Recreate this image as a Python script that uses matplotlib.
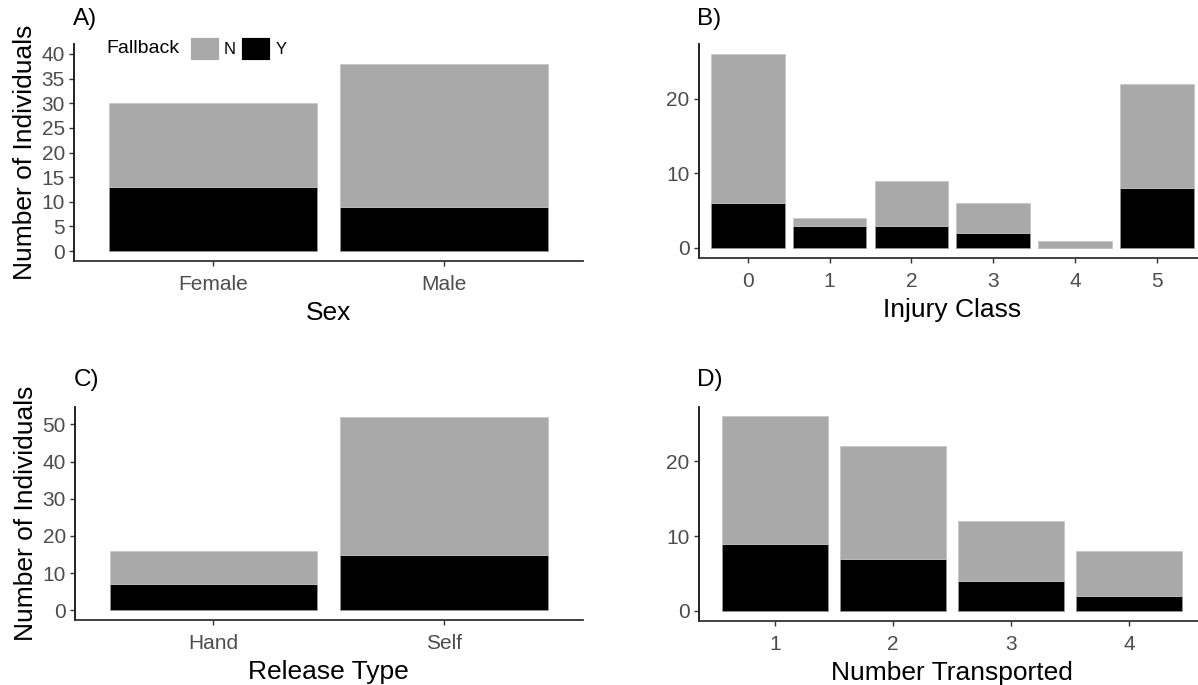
import matplotlib
matplotlib.use("Agg")
import matplotlib.pyplot as plt
from matplotlib.patches import Patch

plt.rcParams['font.family'] = ['Liberation Sans', 'DejaVu Sans']

# ---- data: counts of individuals by fallback outcome ----
sex_labels = ["Female", "Male"]
sex_y = [13, 9]
sex_n = [17, 29]

injury_labels = ["0", "1", "2", "3", "4", "5"]
injury_y = [6, 3, 3, 2, 0, 8]
injury_n = [20, 1, 6, 4, 1, 14]

release_labels = ["Hand", "Self"]
release_y = [7, 15]
release_n = [9, 37]

transported_labels = ["1", "2", "3", "4"]
transported_pos = [1, 2, 3, 4]
transported_y = [9, 7, 4, 2]
transported_n = [17, 15, 8, 6]

GREY = "#A9A9A9"
BLACK = "#000000"
TICK_COLOR = "#4D4D4D"
LINE_COLOR = "#333333"

W, H = 1198, 685
fig = plt.figure(figsize=(W / 100, H / 100), dpi=100)


def make_axes(left, right, top, bottom):
    return fig.add_axes([left / W, 1 - bottom / H, (right - left) / W, (bottom - top) / H])


def style(ax, xlabel, ylabel=None):
    for s in ("top", "right"):
        ax.spines[s].set_visible(False)
    for s in ("left", "bottom"):
        ax.spines[s].set_linewidth(1.3)
        ax.spines[s].set_color(LINE_COLOR)
    ax.spines["left"].set_color("#111111")
    ax.tick_params(axis="both", length=3.5, width=1.0, color=LINE_COLOR,
                   labelsize=15, labelcolor=TICK_COLOR)
    ax.tick_params(axis="y", pad=3.0)
    ax.tick_params(axis="x", pad=6.5)
    ax.set_xlabel(xlabel, fontsize=19, color="black", labelpad=5)
    if ylabel:
        ax.set_ylabel(ylabel, fontsize=19, color="black", labelpad=3)


def stacked(ax, pos, y, n):
    ax.bar(pos, y, width=0.9, color=BLACK, edgecolor="#9A9A9A", linewidth=0.5)
    ax.bar(pos, n, width=0.9, bottom=y, color=GREY, edgecolor="#C4C4C4", linewidth=0.5)


# A) Sex
axA = make_axes(74, 582.7, 44, 261)
posA = list(range(len(sex_labels)))
stacked(axA, posA, sex_y, sex_n)
axA.set_xlim(-0.6, len(sex_labels) - 0.4)
axA.set_ylim(-2, 42)
axA.set_yticks(range(0, 41, 5))
axA.set_xticks(posA, sex_labels)
style(axA, "Sex", "Number of Individuals")

# B) Injury class
axB = make_axes(698.7, 1206, 44, 257.7)
posB = list(range(len(injury_labels)))
stacked(axB, posB, injury_y, injury_n)
axB.set_xlim(-0.6, len(injury_labels) - 0.4)
axB.set_ylim(-1.3, 27.3)
axB.set_yticks([0, 10, 20])
axB.set_xticks(posB, injury_labels)
style(axB, "Injury Class")

# C) Release type
axC = make_axes(75, 582.7, 407.3, 620)
posC = list(range(len(release_labels)))
stacked(axC, posC, release_y, release_n)
axC.set_xlim(-0.6, len(release_labels) - 0.4)
axC.set_ylim(-2.6, 54.6)
axC.set_yticks(range(0, 51, 10))
axC.set_xticks(posC, release_labels)
style(axC, "Release Type", "Number of Individuals")

# D) Number transported
axD = make_axes(698.7, 1205, 406.7, 620.7)
stacked(axD, transported_pos, transported_y, transported_n)
axD.set_xlim(0.355, 4.645)
axD.set_ylim(-1.3, 27.3)
axD.set_yticks([0, 10, 20])
axD.set_xticks(transported_pos, transported_labels)
style(axD, "Number Transported")

# panel tags
for tag, x, y in (("A)", 73, 19), ("B)", 697, 19), ("C)", 74, 380), ("D)", 697, 380)):
    fig.text(x / W, 1 - y / H, tag, fontsize=17.5, ha="left", va="center", color="black")

# legend inside panel A
fig.text(106.5 / W, 1 - 48.5 / H, "Fallback", fontsize=14, ha="left", va="center", color="black")
handles = [Patch(facecolor=GREY, edgecolor="white", linewidth=0.6),
           Patch(facecolor=BLACK, edgecolor="white", linewidth=0.6)]
fig.legend(handles, ["N", "Y"], loc="center left", bbox_to_anchor=(189.5 / W, 1 - 48.5 / H),
           ncol=2, frameon=False, fontsize=12, handlelength=1.74, handleheight=1.74,
           handletextpad=0.33, columnspacing=0.28, borderpad=0, borderaxespad=0)

fig.savefig("out.png", dpi=100, facecolor="white")
